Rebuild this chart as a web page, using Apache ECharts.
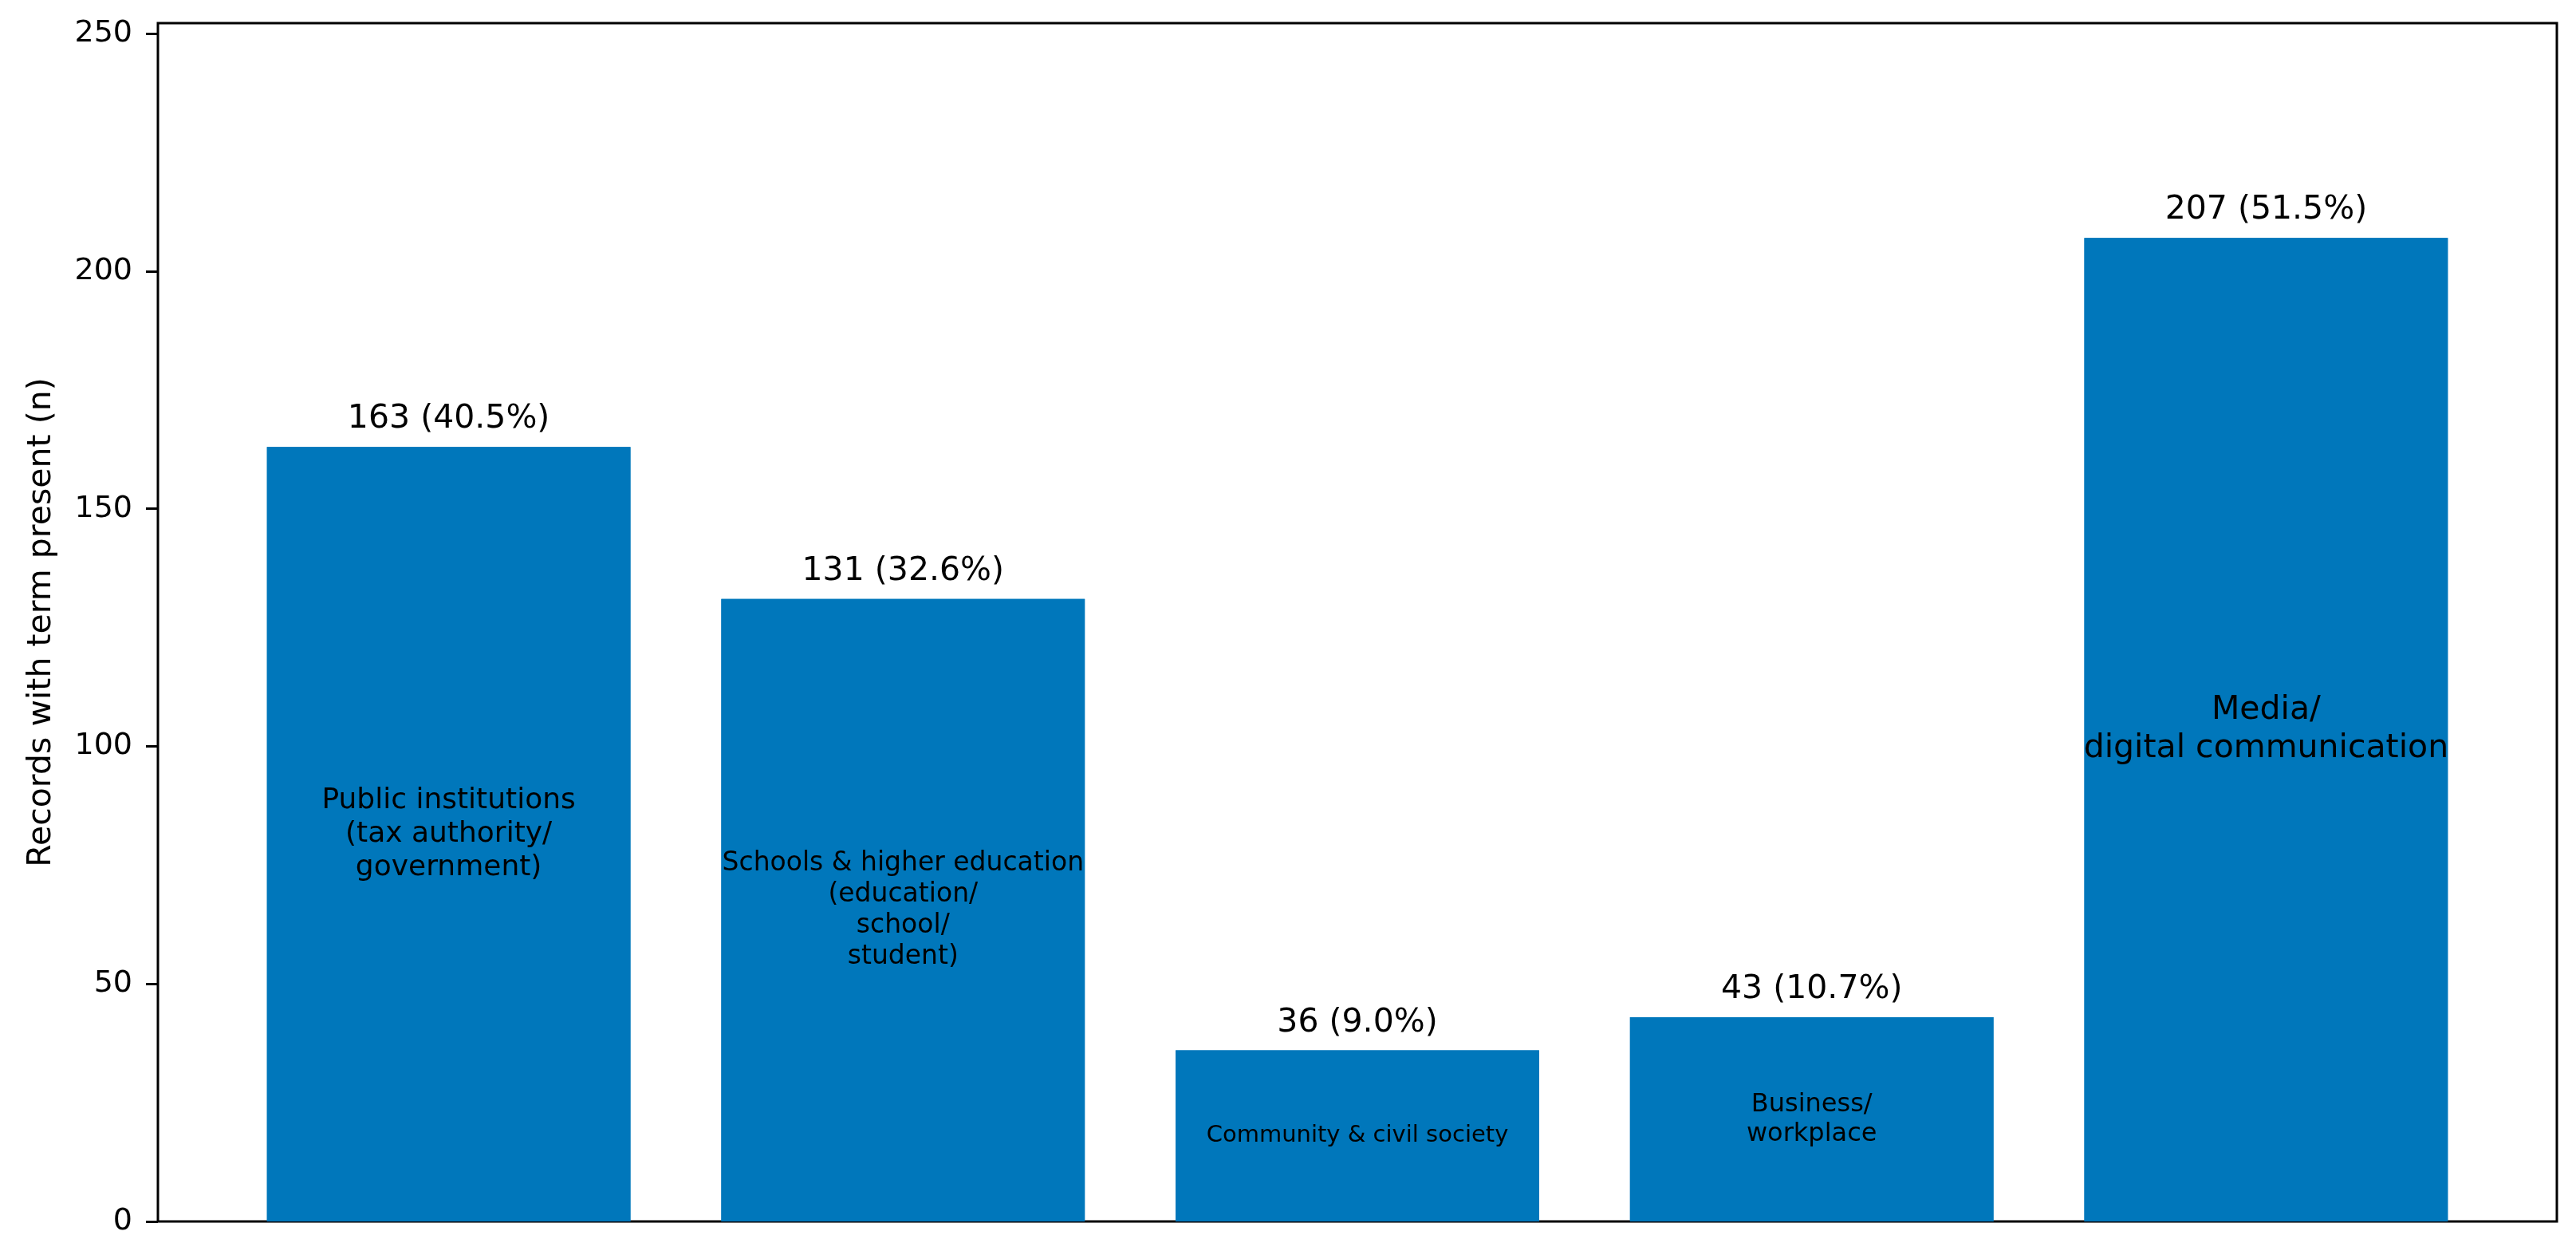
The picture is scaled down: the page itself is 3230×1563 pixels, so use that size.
<!doctype html>
<html>
<head>
<meta charset="utf-8">
<title>Records with term present</title>
<script src="https://cdn.jsdelivr.net/npm/echarts@6/dist/echarts.min.js"></script>
<style>
  html, body { margin: 0; padding: 0; background: #fff; }
  #chart { width: 3230px; height: 1563px; }
</style>
</head>
<body>
<div id="chart"></div>
<script>
  // data
  var categories = [
    "Public institutions\n(tax authority/\ngovernment)",
    "Schools & higher education\n(education/\nschool/\nstudent)",
    "Community & civil society",
    "Business/\nworkplace",
    "Media/\ndigital communication"
  ];
  var counts = [163, 131, 36, 43, 207];
  var percents = [40.5, 32.6, 9.0, 10.7, 51.5];
  var yTicks = [0, 50, 100, 150, 200, 250];

  // label sizes inside the bars (shrunk to fit the bar width)
  var insideFontSizes = [36, 33, 29, 32, 41];

  var font = "DejaVu Sans";
  var barColor = "#0077bb";

  var chart = echarts.init(document.getElementById("chart"));

  var barData = counts.map(function(v, i) {
    return [i, v];
  });

  var insideData = counts.map(function(v, i) {
    return {
      value: [i, v],
      label: {
        fontSize: insideFontSizes[i],
        lineHeight: Math.round(insideFontSizes[i] * 1.17)
      }
    };
  });

  chart.setOption({
    animation: false,
    backgroundColor: "#fff",
    grid: {
      left: 198,
      right: 24,
      top: 29,
      bottom: 32,
      show: true,
      borderColor: "#000",
      borderWidth: 3
    },
    xAxis: {
      type: "value",
      min: -0.64,
      max: 4.64,
      show: false
    },
    yAxis: {
      type: "value",
      min: 0,
      max: 252.2,
      interval: 50,
      name: "Records with term present (n)",
      nameLocation: "middle",
      nameRotate: 90,
      nameGap: 125,
      nameTextStyle: {
        fontFamily: font,
        fontSize: 41,
        color: "#000"
      },
      axisLine: { show: false, onZero: false },
      axisTick: {
        show: true,
        inside: false,
        length: 15,
        customValues: yTicks,
        lineStyle: { color: "#000", width: 3 }
      },
      axisLabel: {
        margin: 32,
        fontFamily: font,
        fontSize: 38,
        color: "#000",
        customValues: yTicks
      },
      splitLine: { show: false }
    },
    series: [{
      name: "count",
      type: "bar",
      barWidth: "80%",
      itemStyle: { color: barColor },
      label: {
        show: true,
        position: "top",
        distance: 14,
        fontFamily: font,
        fontSize: 41,
        lineHeight: 41,
        color: "#000",
        formatter: function(p) {
          return counts[p.dataIndex] + " (" + percents[p.dataIndex].toFixed(1) + "%)";
        }
      },
      data: barData
    }, {
      name: "category",
      type: "bar",
      barWidth: "80%",
      barGap: "-100%",
      itemStyle: { color: barColor },
      label: {
        show: true,
        position: "inside",
        fontFamily: font,
        color: "#000",
        textBorderWidth: 0,
        align: "center",
        formatter: function(p) {
          return categories[p.dataIndex];
        }
      },
      data: insideData
    }]
  });
</script>
</body>
</html>
